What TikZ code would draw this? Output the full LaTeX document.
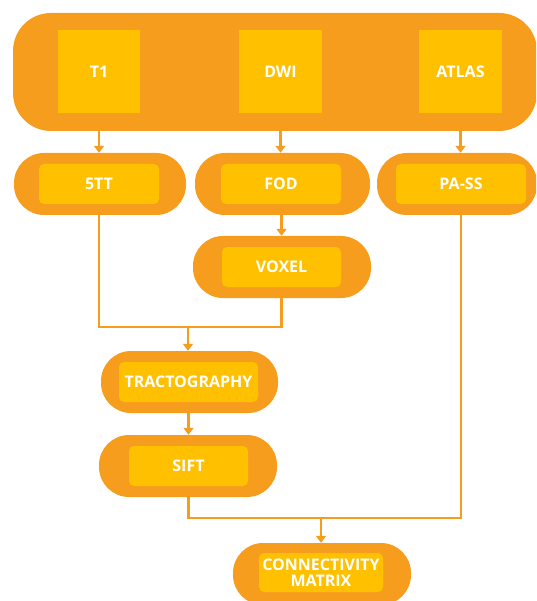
\documentclass[tikz,border=0pt]{standalone}
\usepackage{fontspec}
\setmainfont{Open Sans}
\usetikzlibrary{arrows.meta}
\definecolor{outerc}{RGB}{247,157,30}
\definecolor{innerc}{RGB}{255,192,0}
\tikzset{
  capsule/.style={fill=outerc, draw=none, rounded corners=30pt, inner sep=0pt},
  inbox/.style={fill=innerc, draw=none, rounded corners=5pt, inner sep=0pt, text=white,
    font=\bfseries\fontsize{16}{15.5}\selectfont, align=center},
  sqbox/.style={inbox, rounded corners=0pt},
  wire/.style={draw=outerc, line width=2.2pt},
  conn/.style={wire, -{Triangle[width=10pt,length=7pt]}}
}
\begin{document}
\begin{tikzpicture}[x=1pt,y=-1pt]
\useasboundingbox (0,0) rectangle (536,601);
\clip (0,0) rectangle (536,601);
% top container
\node[capsule, rounded corners=38pt, minimum width=524pt, minimum height=118pt] (top) at (275,72) {};
\node[sqbox, minimum width=82pt, minimum height=83pt] (it1) at (99,71.5) {T1};
\node[sqbox, minimum width=83pt, minimum height=83pt] (idwi) at (280.5,71.5) {DWI};
\node[sqbox, minimum width=83pt, minimum height=83pt] (iatlas) at (460.5,71.5) {ATLAS};
% row 2
\node[capsule, minimum width=172pt, minimum height=62pt] (c5tt) at (100,184) {};
\node[inbox, minimum width=120pt, minimum height=40pt] (i5tt) at (99,184) {5TT};
\node[capsule, minimum width=175pt, minimum height=62pt] (cfod) at (282.5,184) {};
\node[inbox, minimum width=120pt, minimum height=40pt] (ifod) at (281,184) {FOD};
\node[capsule, minimum width=160pt, minimum height=62pt] (cpass) at (457,184) {};
\node[inbox, minimum width=130pt, minimum height=40pt] (ipass) at (461,184) {PA-SS};
% voxel
\node[capsule, minimum width=178pt, minimum height=62pt] (cvox) at (282,267) {};
\node[inbox, minimum width=119pt, minimum height=40pt] (ivox) at (281.5,267) {VOXEL};
% tractography
\node[capsule, minimum width=177pt, minimum height=62pt] (ctr) at (189.5,382) {};
\node[inbox, minimum width=139pt, minimum height=40pt] (itr) at (188.5,382) {TRACTOGRAPHY};
% sift
\node[capsule, minimum width=178pt, minimum height=62pt] (csift) at (188,466) {};
\node[inbox, minimum width=119pt, minimum height=40pt] (isift) at (188.5,466) {SIFT};
% connectivity
\node[capsule, minimum width=178pt, minimum height=62pt] (cconn) at (322,574) {};
\node[inbox, minimum width=124pt, minimum height=39pt] (iconn) at (321,572.5) {CONNECTIVITY\\MATRIX};
% connectors
\draw[conn] (it1 |- top.south) -- (it1 |- c5tt.north);
\draw[conn] (idwi |- top.south) -- (idwi |- cfod.north);
\draw[conn] (iatlas |- top.south) -- (iatlas |- cpass.north);
\draw[conn] (ivox |- cfod.south) -- (ivox |- cvox.north);
\coordinate (j1) at (188,327);
\draw[wire] (i5tt |- c5tt.south) |- (ivox |- j1) -- (ivox |- cvox.south);
\draw[conn] (j1) -- (j1 |- ctr.north);
\draw[conn] (isift |- ctr.south) -- (isift |- csift.north);
\coordinate (j2) at (321,518);
\draw[wire] (isift |- csift.south) |- (ipass |- j2) -- (ipass |- cpass.south);
\draw[conn] (j2) -- (j2 |- cconn.north);
\end{tikzpicture}
\end{document}
